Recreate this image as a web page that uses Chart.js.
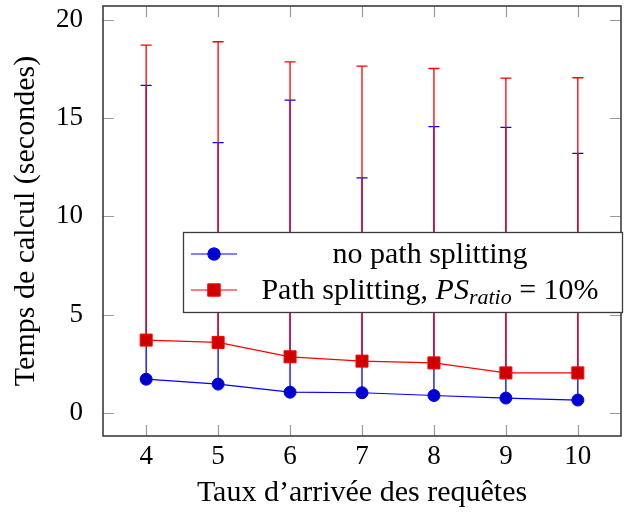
<!DOCTYPE html>
<html lang="fr">
  <head>
    <meta charset="UTF-8" />
    <title>Temps de calcul</title>
    <style>
      html, body { margin: 0; padding: 0; background: #fff; }
      #wrap { width: 624px; height: 515px; }
    </style>
  </head>
  <body>
    <div id="wrap">
      <canvas id="chart" width="624" height="515"></canvas>
    </div>

    <script src="https://cdn.jsdelivr.net/npm/chart.js@4.4.1/dist/chart.umd.min.js"></script>

    <script>
      // data
      var xValues = [4, 5, 6, 7, 8, 9, 10];
      var xTicks = [4, 5, 6, 7, 8, 9, 10];
      var yTicks = [0, 5, 10, 15, 20];

      var seriesLabels = ['no path splitting', 'Path splitting, PS_ratio = 10%'];

      var noSplitTimes = [1.71, 1.46, 1.05, 1.02, 0.88, 0.75, 0.65];
      var noSplitErrPlus = [14.95, 12.29, 14.86, 10.93, 13.68, 13.77, 12.55];

      var splitTimes = [3.70, 3.58, 2.85, 2.63, 2.54, 2.03, 2.03];
      var splitErrPlus = [15.01, 15.30, 15.01, 15.01, 14.98, 15.00, 15.02];

      var FONT = "'Liberation Serif', 'Times New Roman', serif";
      var FS = 27;   // tick labels
      var FT = 30;   // axis titles + legend

      function points(ys) {
        return xValues.map(function (x, i) { return { x: x, y: ys[i] }; });
      }

      // error bars (plus direction only) drawn through the scales
      var errorBars = {
        id: 'errorBars',
        beforeDatasetsDraw: function (chart) {
          var ctx = chart.ctx;
          var xs = chart.scales.x, ys = chart.scales.y;
          chart.data.datasets.forEach(function (ds) {
            ctx.save();
            ctx.strokeStyle = ds.borderColor;
            ctx.lineWidth = 1.3;
            ds.data.forEach(function (p, j) {
              var px = xs.getPixelForValue(p.x);
              var y0 = ys.getPixelForValue(p.y);
              var y1 = ys.getPixelForValue(p.y + ds.errPlus[j]);
              ctx.beginPath();
              ctx.moveTo(px, y0);
              ctx.lineTo(px, y1);
              ctx.moveTo(px - 5.5, y1);
              ctx.lineTo(px + 5.5, y1);
              ctx.stroke();
            });
            ctx.restore();
          });
        }
      };

      // pgfplots-style frame with inward ticks
      var frame = {
        id: 'frame',
        afterDatasetsDraw: function (chart) {
          var ctx = chart.ctx, a = chart.chartArea;
          var xs = chart.scales.x, ys = chart.scales.y;
          ctx.save();
          ctx.strokeStyle = '#9a9a9a';
          ctx.lineWidth = 1.2;
          ctx.beginPath();
          xTicks.forEach(function (v) {
            var px = Math.round(xs.getPixelForValue(v)) + 0.5;
            ctx.moveTo(px, a.bottom); ctx.lineTo(px, a.bottom - 11);
            ctx.moveTo(px, a.top); ctx.lineTo(px, a.top + 11);
          });
          yTicks.forEach(function (v) {
            var py = Math.round(ys.getPixelForValue(v)) + 0.5;
            ctx.moveTo(a.left, py); ctx.lineTo(a.left + 11, py);
            ctx.moveTo(a.right, py); ctx.lineTo(a.right - 11, py);
          });
          ctx.stroke();
          ctx.strokeStyle = '#3c3c3c';
          ctx.lineWidth = 1.6;
          ctx.strokeRect(a.left, a.top, a.right - a.left, a.bottom - a.top);
          ctx.restore();
        }
      };

      function drawLabel(ctx, label, cx, baseline) {
        var m = label.match(/^(.*?)(\w+)_(\w+)(.*)$/);
        var parts;
        if (m) {
          parts = [
            { t: m[1], f: FT + 'px ' + FONT, dy: 0 },
            { t: m[2], f: 'italic ' + FT + 'px ' + FONT, dy: 0 },
            { t: m[3], f: 'italic ' + Math.round(FT * 0.72) + 'px ' + FONT, dy: 5 },
            { t: m[4], f: FT + 'px ' + FONT, dy: 0 }
          ];
        } else {
          parts = [{ t: label, f: FT + 'px ' + FONT, dy: 0 }];
        }
        var total = 0;
        parts.forEach(function (p) { ctx.font = p.f; p.w = ctx.measureText(p.t).width; total += p.w; });
        var x = cx - total / 2;
        ctx.textBaseline = 'alphabetic';
        ctx.textAlign = 'left';
        ctx.fillStyle = '#000';
        parts.forEach(function (p) {
          ctx.font = p.f;
          ctx.fillText(p.t, x, baseline + p.dy);
          x += p.w;
        });
      }

      // legend box like the pgfplots one
      var boxLegend = {
        id: 'boxLegend',
        afterDraw: function (chart) {
          var ctx = chart.ctx, a = chart.chartArea;
          var left = 183, top = 232, right = a.right + 2, bottom = 313;
          ctx.save();
          ctx.fillStyle = '#fff';
          ctx.fillRect(left, top, right - left, bottom - top);
          ctx.strokeStyle = '#3c3c3c';
          ctx.lineWidth = 1.3;
          ctx.strokeRect(left + 0.5, top + 0.5, right - left - 1, bottom - top - 1);
          var rows = [254, 290];
          chart.data.datasets.forEach(function (ds, i) {
            var y = rows[i];
            ctx.strokeStyle = ds.borderColor;
            ctx.lineWidth = 1.2;
            ctx.beginPath();
            ctx.moveTo(left + 8, y);
            ctx.lineTo(left + 54, y);
            ctx.stroke();
            Chart.helpers.drawPoint(ctx, {
              pointStyle: ds.pointStyle,
              radius: ds.pointRadius,
              borderWidth: ds.pointBorderWidth,
              rotation: 0
            }, left + 31, y);
            ctx.fillStyle = ds.pointBackgroundColor;
            ctx.strokeStyle = ds.pointBorderColor;
            ctx.lineWidth = ds.pointBorderWidth;
            ctx.fill();
            ctx.stroke();
            drawLabel(ctx, ds.label, (left + 60 + right - 6) / 2, y + 9);
          });
          ctx.restore();
        }
      };

      var ctx = document.getElementById('chart');
      var chart = new Chart(ctx, {
        type: 'line',
        data: {
          datasets: [{
            label: seriesLabels[0],
            data: points(noSplitTimes),
            errPlus: noSplitErrPlus,
            borderColor: 'rgb(0, 0, 255)',
            borderWidth: 1.2,
            pointStyle: 'circle',
            pointRadius: 6,
            pointHoverRadius: 6,
            pointBorderWidth: 1,
            pointBackgroundColor: 'rgb(0, 0, 204)',
            pointBorderColor: 'rgb(0, 0, 255)',
            tension: 0,
            fill: false
          }, {
            label: seriesLabels[1],
            data: points(splitTimes),
            errPlus: splitErrPlus,
            borderColor: 'rgb(255, 0, 0)',
            borderWidth: 1.2,
            pointStyle: 'rect',
            pointRadius: 8.5,
            pointHoverRadius: 8.5,
            pointBorderWidth: 1,
            pointBackgroundColor: 'rgb(204, 0, 0)',
            pointBorderColor: 'rgb(255, 0, 0)',
            tension: 0,
            fill: false
          }]
        },
        options: {
          responsive: false,
          animation: false,
          events: [],
          layout: { autoPadding: false, padding: { top: 6, right: 3, bottom: 0, left: 0 } },
          plugins: {
            legend: { display: false },
            tooltip: { enabled: false }
          },
          scales: {
            x: {
              type: 'linear',
              min: 3.4,
              max: 10.6,
              afterBuildTicks: function (scale) {
                scale.ticks = xTicks.map(function (v) { return { value: v }; });
              },
              afterFit: function (scale) {
                scale.height = 79;
                scale.paddingLeft = 0;
                scale.paddingRight = 0;
              },
              grid: { display: false, drawTicks: false },
              border: { display: false },
              ticks: {
                padding: 5,
                color: '#000',
                maxRotation: 0,
                font: { family: FONT, size: FS }
              },
              title: {
                display: true,
                text: 'Taux d\u2019arrivée des requêtes',
                color: '#000',
                font: { family: FONT, size: FT },
                padding: { top: 0, bottom: 4 }
              }
            },
            y: {
              min: -1.18,
              max: 20.7,
              afterBuildTicks: function (scale) {
                scale.ticks = yTicks.map(function (v) { return { value: v }; });
              },
              afterFit: function (scale) {
                scale.width = 103;
                scale.paddingTop = 0;
                scale.paddingBottom = 0;
              },
              grid: { display: false, drawTicks: false },
              border: { display: false },
              ticks: {
                padding: 20,
                color: '#000',
                font: { family: FONT, size: FS }
              },
              title: {
                display: true,
                text: 'Temps de calcul (secondes)',
                color: '#000',
                font: { family: FONT, size: FT },
                padding: { top: 8, bottom: 0 }
              }
            }
          }
        },
        plugins: [errorBars, frame, boxLegend]
      });
    </script>
  </body>
</html>
